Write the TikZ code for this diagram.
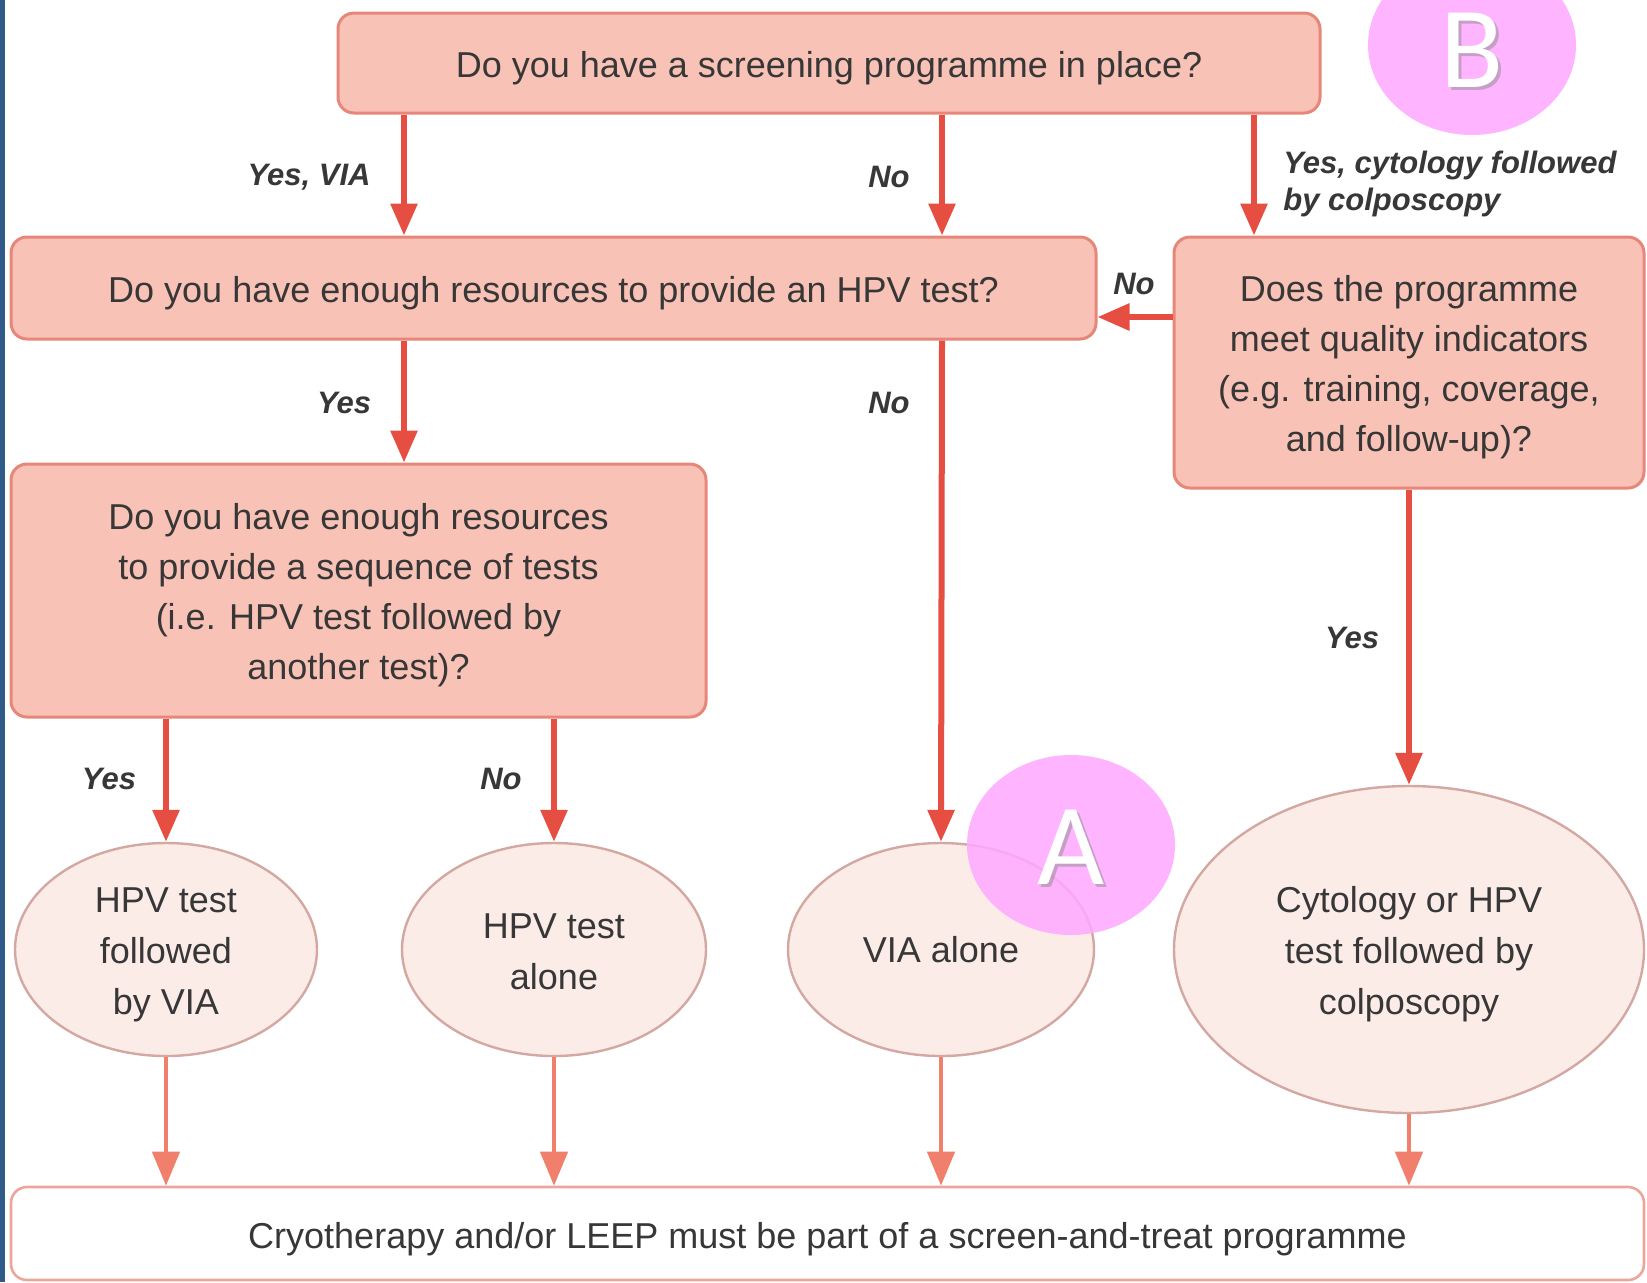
\documentclass[tikz,border=0pt]{standalone}
\usepackage{fontspec}
\setmainfont{Liberation Sans}
\newfontfamily\letterfont{Carlito}
\usetikzlibrary{arrows.meta,shapes.geometric}
\definecolor{boxfill}{RGB}{249,194,182}
\definecolor{boxdraw}{RGB}{230,135,122}
\definecolor{arrred}{RGB}{230,78,66}
\definecolor{arrlight}{RGB}{240,128,108}
\definecolor{ellfill}{RGB}{252,236,232}
\definecolor{elldraw}{RGB}{212,168,162}
\definecolor{endraw}{RGB}{236,165,155}
\definecolor{txt}{RGB}{55,55,55}
\definecolor{pinkc}{RGB}{255,168,255}
\definecolor{bluestrip}{RGB}{47,90,138}
\newcommand{\tstrut}{\rule{0pt}{18pt}}
\tikzset{
  qbox/.style={draw=boxdraw, line width=1.5pt, fill=boxfill, rounded corners=8pt,
    text=txt, font=\fontsize{18}{25}\selectfont, align=center, inner sep=0pt},
  ell/.style={ellipse, draw=elldraw, line width=1.2pt, fill=ellfill, text=txt,
    font=\fontsize{18}{25.5}\selectfont, align=center, inner sep=0pt},
  endbox/.style={draw=endraw, line width=1.3pt, fill=white, rounded corners=8pt,
    text=txt, font=\fontsize{18}{25}\selectfont, align=center, inner sep=0pt},
  lbl/.style={text=txt, font=\fontsize{15.5}{18.5}\selectfont\bfseries\itshape, inner sep=0pt},
  arr/.style={draw=arrred, line width=3pt, -{Triangle[length=16pt,width=13pt]}},
  arrl/.style={draw=arrlight, line width=2.2pt, -{Triangle[length=17pt,width=13.5pt]}},
  pinkell/.style={ellipse, fill=pinkc, fill opacity=0.85, draw=none, inner sep=0pt},
  lettr/.style={text=white, font=\letterfont\fontsize{58}{58}\selectfont, inner sep=0pt}
}
\begin{document}
\begin{tikzpicture}[x=0.5pt,y=-0.5pt]
\useasboundingbox (0,0) rectangle (1647,1282);
\fill[white] (0,0) rectangle (1647,1282);
\fill[bluestrip] (0,0) rectangle (5,1282);

\node[qbox, minimum width=491pt, minimum height=50pt] (top) at (829,63) {\tstrut Do you have a screening programme in place?};
\node[qbox, minimum width=542.5pt, minimum height=51pt] (hpv) at (553.5,288) {\tstrut Do you have enough resources to provide an HPV test?};
\node[qbox, minimum width=235pt, minimum height=125.5pt] (qual) at (1409,362.5) {\tstrut Does the programme\\meet quality indicators\\(e.g. training, coverage,\\and follow-up)?};
\node[qbox, minimum width=347.5pt, minimum height=126.5pt] (seq) at (358.5,590.5) {\tstrut Do you have enough resources\\to provide a sequence of tests\\(i.e. HPV test followed by\\another test)?};

\node[ell, minimum width=151pt, minimum height=106.5pt] (e1) at (166,949.5) {\tstrut HPV test\\followed\\by VIA};
\node[ell, minimum width=152pt, minimum height=106.5pt] (e2) at (554,949.5) {\rule{0pt}{15pt}HPV test\\alone};
\node[ell, minimum width=153pt, minimum height=106.5pt] (e3) at (941,949.5) {VIA alone};
\node[ell, minimum width=235pt, minimum height=163.5pt] (e4) at (1409,949.5) {\tstrut Cytology or HPV\\test followed by\\colposcopy};

\node[endbox, minimum width=816.5pt, minimum height=46.5pt] (end) at (827.5,1233.5) {\rule{0pt}{19pt}Cryotherapy and/or LEEP must be part of a screen-and-treat programme};

% arrows from top
\draw[arr] (top.south -| 404,0) -- (hpv.north -| 404,0);
\draw[arr] (top.south -| 942,0) -- (hpv.north -| 942,0);
\draw[arr] (top.south -| 1254,0) -- (qual.north -| 1254,0);
\draw[arr] (qual.west |- 0,317) -- (hpv.east |- 0,317);
\draw[arr] (hpv.south -| 404,0) -- (seq.north -| 404,0);
\draw[arr] (hpv.south -| 942,0) -- (e3.north);
\draw[arr] (seq.south -| 166,0) -- (e1.north);
\draw[arr] (seq.south -| 554,0) -- (e2.north);
\draw[arr] (qual.south) -- (e4.north);

% to end
\draw[arrl] (e1.south) -- (end.north -| e1.south);
\draw[arrl] (e2.south) -- (end.north -| e2.south);
\draw[arrl] (e3.south) -- (end.north -| e3.south);
\draw[arrl] (e4.south) -- (end.north -| e4.south);

% labels
\node[lbl, anchor=east] (l1) at (371,177) {Yes, VIA};
\node[lbl] (l2) at (889,177) {No};
\node[lbl, anchor=west, align=left] (l3) at (1283,184) {Yes, cytology followed\\by colposcopy};
\node[lbl] (l4) at (1134,284) {No};
\node[lbl] (l5) at (344,403) {Yes};
\node[lbl] (l6) at (889,403) {No};
\node[lbl] (l7) at (109,779) {Yes};
\node[lbl] (l8) at (501,779) {No};
\node[lbl] (l9) at (1352,638) {Yes};

% pink markers
\node[pinkell, minimum width=104pt, minimum height=90pt] (ca) at (1071,845) {};
\node[lettr, text=black!45, opacity=0.5] at (1074,850) {A};
\node[lettr] (la) at (1071,847) {A};
\node[pinkell, minimum width=104pt, minimum height=90pt] (cb) at (1472,45) {};
\node[lettr, text=black!45, opacity=0.5] at (1475,53) {B};
\node[lettr] (lb) at (1472,50) {B};
\end{tikzpicture}
\end{document}
